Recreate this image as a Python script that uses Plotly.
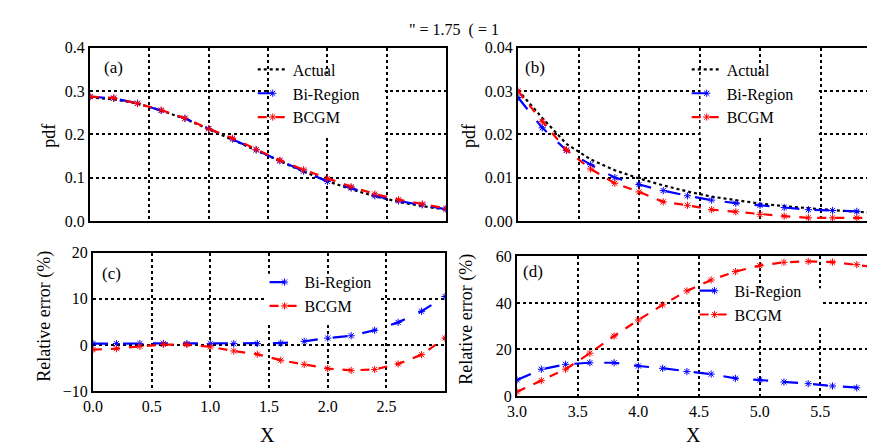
import plotly.graph_objects as go

# ---------------- data ----------------
x_a = [0.0, 0.2, 0.4, 0.6, 0.8, 1.0, 1.2, 1.4, 1.6, 1.8, 2.0, 2.2, 2.4, 2.6, 2.8, 3.0]
actual_a = [0.285, 0.281, 0.271, 0.255, 0.236, 0.212, 0.188, 0.163, 0.138, 0.114, 0.092, 0.073, 0.057, 0.044, 0.034, 0.026]
bi_a = [0.287, 0.283, 0.272, 0.255, 0.237, 0.213, 0.189, 0.164, 0.139, 0.115, 0.091, 0.076, 0.058, 0.046, 0.037, 0.027]
bcgm_a = [0.287, 0.284, 0.271, 0.256, 0.237, 0.213, 0.191, 0.165, 0.140, 0.118, 0.098, 0.079, 0.062, 0.049, 0.039, 0.029]

x_b = [3.0, 3.2, 3.4, 3.6, 3.8, 4.0, 4.2, 4.4, 4.6, 4.8, 5.0, 5.2, 5.4, 5.6, 5.8, 6.0]
actual_b = [0.0302, 0.0238, 0.0178, 0.0142, 0.0117, 0.0098, 0.0082, 0.0068, 0.0056, 0.0048, 0.0040, 0.0034, 0.0029, 0.0025, 0.0021, 0.0018]
bi_b = [0.0285, 0.0215, 0.0163, 0.0130, 0.0100, 0.0084, 0.0070, 0.0058, 0.0048, 0.0041, 0.0036, 0.0031, 0.0026, 0.0024, 0.0022, 0.0017]
bcgm_b = [0.0300, 0.0230, 0.0164, 0.0120, 0.0087, 0.0067, 0.0044, 0.0036, 0.0026, 0.0021, 0.0015, 0.0011, 0.0007, 0.0007, 0.0007, 0.0007]

err_bi_c = [0.3, 0.3, 0.3, 0.3, 0.3, 0.3, 0.3, 0.3, 0.4, 0.8, 1.5, 2.0, 3.2, 4.9, 7.3, 10.5]
err_bcgm_c = [-1.0, -0.8, -0.3, 0.1, 0.1, -0.4, -1.3, -2.0, -3.3, -4.2, -5.1, -5.5, -5.3, -4.1, -2.1, 1.5]

err_bi_d = [6.9, 11.5, 13.6, 14.3, 14.3, 12.9, 11.9, 10.5, 9.4, 7.6, 6.9, 6.0, 5.3, 4.3, 3.5, 2.9]
err_bcgm_d = [1.8, 6.6, 11.5, 18.4, 25.8, 32.7, 39.2, 45.2, 49.9, 53.5, 56.1, 57.5, 57.9, 57.6, 56.5, 55.1]

ticks_a_y = [0.0, 0.1, 0.2, 0.3, 0.4]
ticks_b_y = [0.00, 0.01, 0.02, 0.03, 0.04]
ticks_c_y = [-10, 0, 10, 20]
ticks_d_y = [0, 20, 40, 60]
ticks_c_x = [0.0, 0.5, 1.0, 1.5, 2.0, 2.5]
ticks_d_x = [3.0, 3.5, 4.0, 4.5, 5.0, 5.5]

BLUE = "#0000FF"
RED = "#FF0000"
FONT = "Liberation Serif"

fig = go.Figure()

def add_panel(xs, ys_list, names, xa, ya, legend, show_actual):
    styles = []
    if show_actual:
        styles.append(dict(color="black", dash="dot", marker=False))
    styles.append(dict(color=BLUE, dash="longdash", marker=True))
    styles.append(dict(color=RED, dash="dash", marker=True))
    for ys, name, st in zip(ys_list, names, styles):
        fig.add_trace(go.Scatter(
            x=xs, y=ys, name=name,
            mode="lines+markers" if st["marker"] else "lines",
            line=dict(color=st["color"], dash=st["dash"], width=2.2),
            marker=dict(symbol="asterisk-open", size=6,
                        line=dict(color=st["color"], width=1)),
            xaxis=xa, yaxis=ya, legend=legend,
        ))

add_panel(x_a, [actual_a, bi_a, bcgm_a], ["Actual", "Bi-Region", "BCGM"], "x", "y", "legend", True)
add_panel(x_b, [actual_b, bi_b, bcgm_b], ["Actual", "Bi-Region", "BCGM"], "x2", "y2", "legend2", True)
add_panel(x_a, [err_bi_c, err_bcgm_c], ["Bi-Region", "BCGM"], "x3", "y3", "legend3", False)
add_panel(x_b, [err_bi_d, err_bcgm_d], ["Bi-Region", "BCGM"], "x4", "y4", "legend4", False)

W, H = 875, 447

# panel pixel boxes (left, right, top, bottom) and axis ranges
panels = {
    "a": dict(px=(73, 434), py=(33, 213), xr=(0, 3), yr=(0, 0.4)),
    "b": dict(px=(507, 875), py=(33, 213), xr=(3, 6), yr=(0, 0.04)),
    "c": dict(px=(76, 433), py=(246, 390), xr=(0, 3), yr=(-10, 20)),
    "d": dict(px=(506, 875), py=(250, 395), xr=(3, 6), yr=(0, 60)),
}

def dom_x(p):
    return [p["px"][0] / W, p["px"][1] / W]

def dom_y(p):
    return [1 - p["py"][1] / H, 1 - p["py"][0] / H]

def tfont(size):
    return dict(family=FONT, size=size, color="black")

axis_common = dict(
    showline=True, mirror=True, linecolor="black", linewidth=2,
    showgrid=True, gridcolor="black", gridwidth=2, griddash="dot",
    zeroline=False, ticks="", tickfont=tfont(16),
)

pa, pb, pc, pd = panels["a"], panels["b"], panels["c"], panels["d"]
fig.update_layout(
    width=W, height=H,
    margin=dict(l=0, r=0, t=0, b=0),
    paper_bgcolor="white", plot_bgcolor="white",
    font=tfont(16),
    xaxis=dict(domain=dom_x(pa), range=list(pa["xr"]), dtick=0.5, showticklabels=False, anchor="y", **axis_common),
    yaxis=dict(domain=dom_y(pa), range=list(pa["yr"]), tickvals=ticks_a_y, tickformat=".1f", anchor="x", **axis_common),
    xaxis2=dict(domain=dom_x(pb), range=list(pb["xr"]), dtick=0.5, showticklabels=False, anchor="y2", **axis_common),
    yaxis2=dict(domain=dom_y(pb), range=list(pb["yr"]), tickvals=ticks_b_y, tickformat=".2f", anchor="x2", **axis_common),
    xaxis3=dict(domain=dom_x(pc), range=list(pc["xr"]), tickvals=ticks_c_x, tickformat=".1f", anchor="y3", **axis_common),
    yaxis3=dict(domain=dom_y(pc), range=list(pc["yr"]), tickvals=ticks_c_y, anchor="x3", **axis_common),
    xaxis4=dict(domain=dom_x(pd), range=list(pd["xr"]), tickvals=ticks_d_x, tickformat=".1f", anchor="y4", **axis_common),
    yaxis4=dict(domain=dom_y(pd), range=list(pd["yr"]), tickvals=ticks_d_y, anchor="x4", **axis_common),
)

leg_common = dict(bgcolor="rgba(0,0,0,0)", borderwidth=0, font=tfont(16),
                  xanchor="left", yanchor="top", tracegroupgap=0, itemwidth=30)
fig.update_layout(
    legend=dict(x=238 / W, y=1 - 38 / H, **leg_common),
    legend2=dict(x=678 / W, y=1 - 38 / H, **leg_common),
    legend3=dict(x=250 / W, y=1 - 259 / H, **leg_common),
    legend4=dict(x=686 / W, y=1 - 268 / H, **leg_common),
)

# white boxes behind the legends, drawn between grid lines and data
def to_data(p, px, py):
    x = p["xr"][0] + (px - p["px"][0]) / (p["px"][1] - p["px"][0]) * (p["xr"][1] - p["xr"][0])
    y = p["yr"][0] + (p["py"][1] - py) / (p["py"][1] - p["py"][0]) * (p["yr"][1] - p["yr"][0])
    return x, y

boxes = [("a", "x", "y", (255, 60, 372, 124)), ("b", "x2", "y2", (692, 60, 812, 124)),
         ("c", "x3", "y3", (250, 268, 365, 318)), ("d", "x4", "y4", (692, 283, 815, 322))]
shapes = []
for key, xr, yr, (x0, y0, x1, y1) in boxes:
    dx0, dy1 = to_data(panels[key], x0, y0)
    dx1, dy0 = to_data(panels[key], x1, y1)
    shapes.append(dict(type="rect", xref=xr, yref=yr, x0=dx0, x1=dx1, y0=dy0, y1=dy1,
                       fillcolor="white", line=dict(width=0), layer="between"))
fig.update_layout(shapes=shapes)

ann = []
def txt(x, y, s, size=16, angle=0):
    ann.append(dict(x=x / W, y=1 - y / H, xref="paper", yref="paper", text=s, showarrow=False,
                    textangle=angle, font=tfont(size),
                    xanchor="center", yanchor="middle"))

txt(442, 15, "\" = 1.75  ( = 1", 16)
txt(97, 54, "(a)", 17)
txt(524, 54, "(b)", 17)
txt(95, 268, "(c)", 17)
txt(522, 266, "(d)", 17)
txt(32, 125, "pdf", 18, -90)
txt(458, 125, "pdf", 18, -90)
txt(27, 312, "Relative error (%)", 18, -90)
txt(454, 315, "Relative error (%)", 18, -90)
txt(253, 436, "X", 20)
txt(685, 436, "X", 20)
fig.update_layout(annotations=ann)

fig.write_html("out.html")
